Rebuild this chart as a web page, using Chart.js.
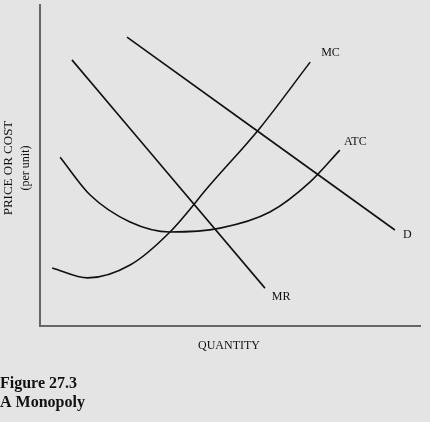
<!DOCTYPE html>
<html>
<head>
    <script src="https://cdn.jsdelivr.net/npm/chart.js"></script>
    <style>
        body { margin: 0; background: #e4e4e4; }
        #wrap { width: 430px; height: 422px; position: relative; }
    </style>
</head>
<body>
<div id="wrap"><canvas id="c"></canvas></div>
<script>
// curves in quantity / price units (0-10 each)
const demand = [{x: 2.29, y: 9.0}, {x: 9.34, y: 2.99}];
const marginalRevenue = [{x: 0.84, y: 8.29}, {x: 5.92, y: 1.18}];
const marginalCost = [{x: 0.32, y: 1.81}, {x: 1.26, y: 1.5}, {x: 2.37, y: 1.9}, {x: 3.42, y: 2.93}, {x: 4.47, y: 4.39}, {x: 5.79, y: 6.17}, {x: 7.11, y: 8.22}];
const averageCost = [{x: 0.53, y: 5.26}, {x: 1.32, y: 4.08}, {x: 2.37, y: 3.24}, {x: 3.42, y: 2.93}, {x: 4.74, y: 3.05}, {x: 6.05, y: 3.55}, {x: 7.11, y: 4.49}, {x: 7.89, y: 5.48}];
const curveLabels = [
    {text: 'MC', x: 7.4, y: 8.5},
    {text: 'ATC', x: 8.0, y: 5.75},
    {text: 'D', x: 9.55, y: 2.85},
    {text: 'MR', x: 6.1, y: 0.9}
];

const serif = '"Liberation Serif", "DejaVu Serif", serif';

const textPlugin = {
    id: 'texts',
    afterDraw(chart) {
        const ctx = chart.ctx, xs = chart.scales.x, ys = chart.scales.y;
        ctx.save();
        ctx.fillStyle = '#111';
        ctx.font = '12px ' + serif;
        ctx.textBaseline = 'middle';
        curveLabels.forEach(l => ctx.fillText(l.text, xs.getPixelForValue(l.x), ys.getPixelForValue(l.y)));
        ctx.textAlign = 'center';
        ctx.fillText('QUANTITY', 229, 346);
        ctx.save();
        ctx.translate(9, 168);
        ctx.rotate(-Math.PI / 2);
        ctx.font = '13px ' + serif;
        ctx.fillText('PRICE OR COST', 0, 0);
        ctx.font = '12px ' + serif;
        ctx.fillText('(per unit)', 0, 17);
        ctx.restore();
        ctx.textAlign = 'left';
        ctx.font = 'bold 16px ' + serif;
        ctx.fillText('Figure 27.3', 0, 384);
        ctx.fillText('A Monopoly', 0, 403);
        ctx.restore();
    }
};

const line = (data) => ({data, borderColor: '#111', borderWidth: 1.6, pointRadius: 0, cubicInterpolationMode: 'monotone', fill: false});

new Chart(document.getElementById('c'), {
    type: 'line',
    data: {datasets: [line(demand), line(marginalRevenue), line(marginalCost), line(averageCost)]},
    options: {
        responsive: true,
        maintainAspectRatio: false,
        animation: false,
        layout: {padding: {left: 32, right: 10, top: 5, bottom: 88}},
        plugins: {legend: {display: false}, tooltip: {enabled: false}},
        scales: {
            x: {type: 'linear', min: 0, max: 10, ticks: {display: false}, grid: {display: false}, border: {color: '#666', width: 2}},
            y: {min: 0, max: 10, ticks: {display: false}, grid: {display: false}, border: {color: '#666', width: 2}}
        }
    },
    plugins: [textPlugin]
});
</script>
</body>
</html>
